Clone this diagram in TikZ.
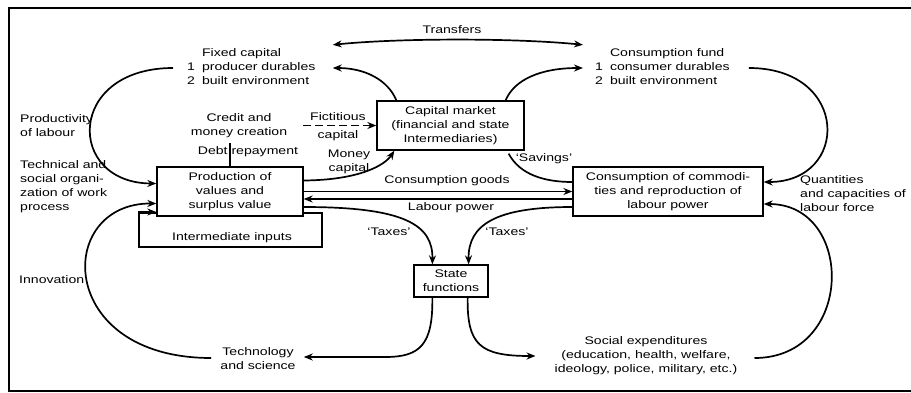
\documentclass[tikz,border=0pt]{standalone}
\usepackage{fontspec}
\setmainfont{Liberation Sans}[FakeStretch=1.28]
\usetikzlibrary{arrows.meta,calc}
\tikzset{
  txt/.style={inner sep=0pt, align=center, font=\fontsize{11}{14}\selectfont},
  txtl/.style={txt, align=left},
  box/.style={draw, line width=1.3pt, fill=white, inner sep=0pt, align=center,
              font=\fontsize{11}{14}\selectfont},
  flow/.style={line width=1.7pt, ->},
  link/.style={line width=1.7pt},
}
\newcommand{\listblock}[3]{\begin{tabular}{@{}l@{\hspace{7pt}}l@{}} & #1\\ 1 & #2\\ 2 & #3\end{tabular}}
\begin{document}
\begin{tikzpicture}[x=1pt, y=-1pt, >={Stealth[length=9pt,width=7pt]}]
\useasboundingbox (0,0) rectangle (911,392);

% outer frame, open to the right
\draw[line width=2pt] (915,7.5) -- (8.5,7.5) -- (8.5,391) -- (915,391);

% text blocks
\node[txt] (transfers) at (452,30) {Transfers};
\node[txt, anchor=west] (fixcap) at (187,68) {\listblock{Fixed capital}{producer durables}{built environment}};
\node[txt, anchor=west] (consfund) at (595,68) {\listblock{Consumption fund}{consumer durables}{built environment}};
\node[txtl, anchor=west] (prodlab) at (20,125.5) {Productivity\\of labour};
\node[txtl, anchor=west] (techorg) at (20,187) {Technical and\\social organi-\\zation of work\\process};
\node[txtl, anchor=west] (innov) at (19,280) {Innovation};
\node[txt] (credit) at (239,125.5) {Credit and\\money creation};
\node[txt] (debt) at (248,152) {Debt repayment};
\node[txt] (fict) at (338,117) {Fictitious};
\node[txt] (fictcap) at (338,136) {capital};
\node[txt] (moncap) at (349,161.5) {Money\\capital};

% boxes
\node[box, minimum width=183pt, minimum height=34pt, line width=2pt] (inter) at (230.5,230) {};
\node[txt] (interlbl) at (232,238) {Intermediate inputs};
\node[box, minimum width=146pt, minimum height=49pt] (prod) at (230,191.5) {Production of\\values and\\surplus value};
\node[box, minimum width=147pt, minimum height=49pt] (capm) at (450.5,125.5) {Capital market\\(financial and state\\Intermediaries)};
\node[box, minimum width=190pt, minimum height=49pt] (cons) at (668,191.5) {Consumption of commodi-\\ties and reproduction of\\labour power};
\node[box, minimum width=74pt, minimum height=32pt] (state) at (451,281) {State\\functions};

\node[txt] (savings) at (544,159) {`Savings'};
\node[txt] (consgoods) at (447,181) {Consumption goods};
\node[txt] (labpow) at (451,208) {Labour power};
\node[txt] (taxl) at (389,232) {`Taxes'};
\node[txt] (taxr) at (507,232) {`Taxes'};
\node[txtl, anchor=west] (quant) at (800,194) {Quantities\\and capacities of\\labour force};
\node[txt] (tech) at (258,359) {Technology\\and science};
\node[txt] (social) at (646,356) {Social expenditures\\(education, health, welfare,\\ideology, police, military, etc.)};

% transfers between the two funds
\draw[link, <->] ($(fixcap.north east)+(17,-2)$) .. controls (400,38) and (515,38) .. ($(consfund.north west)+(-12,-2)$);

% capital market to the two funds
\draw[flow] ($(capm.north west)+(20,0)$) .. controls (388,80) and (365,68) .. ($(fixcap.east)+(17,0)$);
\draw[flow] ($(capm.north east)+(-19,0)$) .. controls (514,80) and (540,68) .. ($(consfund.west)+(-12,0)$);

% loops on the left
\draw[flow] ($(fixcap.west)+(-14,0)$) .. controls (66,68) and (66,183) .. ($(prod.west)+(0,-8)$);
\draw[flow] ($(tech.west)+(-9,-1)$) .. controls (55,358) and (55,203) .. ($(prod.west)+(0,12)$);
\draw[flow] (inter.north west) -- (inter.north west -| prod.west);

% money and credit
\draw[flow] ($(prod.east)+(0,-11)$) .. controls (360,180) and (385,165) .. ($(capm.south west)+(18,0)$);
\coordinate (fictsrc) at (303,125.5);
\draw[line width=1.6pt, dash pattern=on 8pt off 4pt] (fictsrc) -- ($(capm.west)+(-7,0)$);
\draw[flow] ($(capm.west)+(-8,0)$) -- (capm.west);
\draw[line width=1.3pt] (prod.north) -- ++(0,-23);

% flows between production and consumption
\draw[flow] (prod.east) -- (prod.east -| cons.west);
\draw[flow] ($(cons.west)+(0,7.5)$) -- ($(prod.east)+(0,7.5)$);
\draw[flow] ($(prod.east)+(0,15.5)$) .. controls (405,207) and (433,225) .. ($(state.north west)+(19,0)$);
\draw[flow] ($(cons.west)+(0,15.5)$) .. controls (495,207) and (468,225) .. ($(state.north east)+(-20,0)$);
\draw[link] ($(capm.south east)+(-16,3)$) .. controls (520,175) and (545,182) .. ($(cons.west)+(0,-9.5)$);

% loops on the right
\draw[flow] ($(consfund.east)+(19,0)$) .. controls (850,68) and (850,182) .. ($(cons.east)+(0,-9.5)$);
\draw[flow] ($(social.east)+(17,2)$) .. controls (855,358) and (855,204) .. ($(cons.east)+(0,12.5)$);

% state outputs
\draw[flow] ($(state.south west)+(19,0)$) .. controls (433,345) and (420,357) .. (385,357) -- ($(tech.east)+(8,-2)$);
\draw[flow] ($(state.south east)+(-21,0)$) .. controls (467,345) and (480,356) .. ($(social.west)+(-19,0)$);
\end{tikzpicture}
\end{document}
